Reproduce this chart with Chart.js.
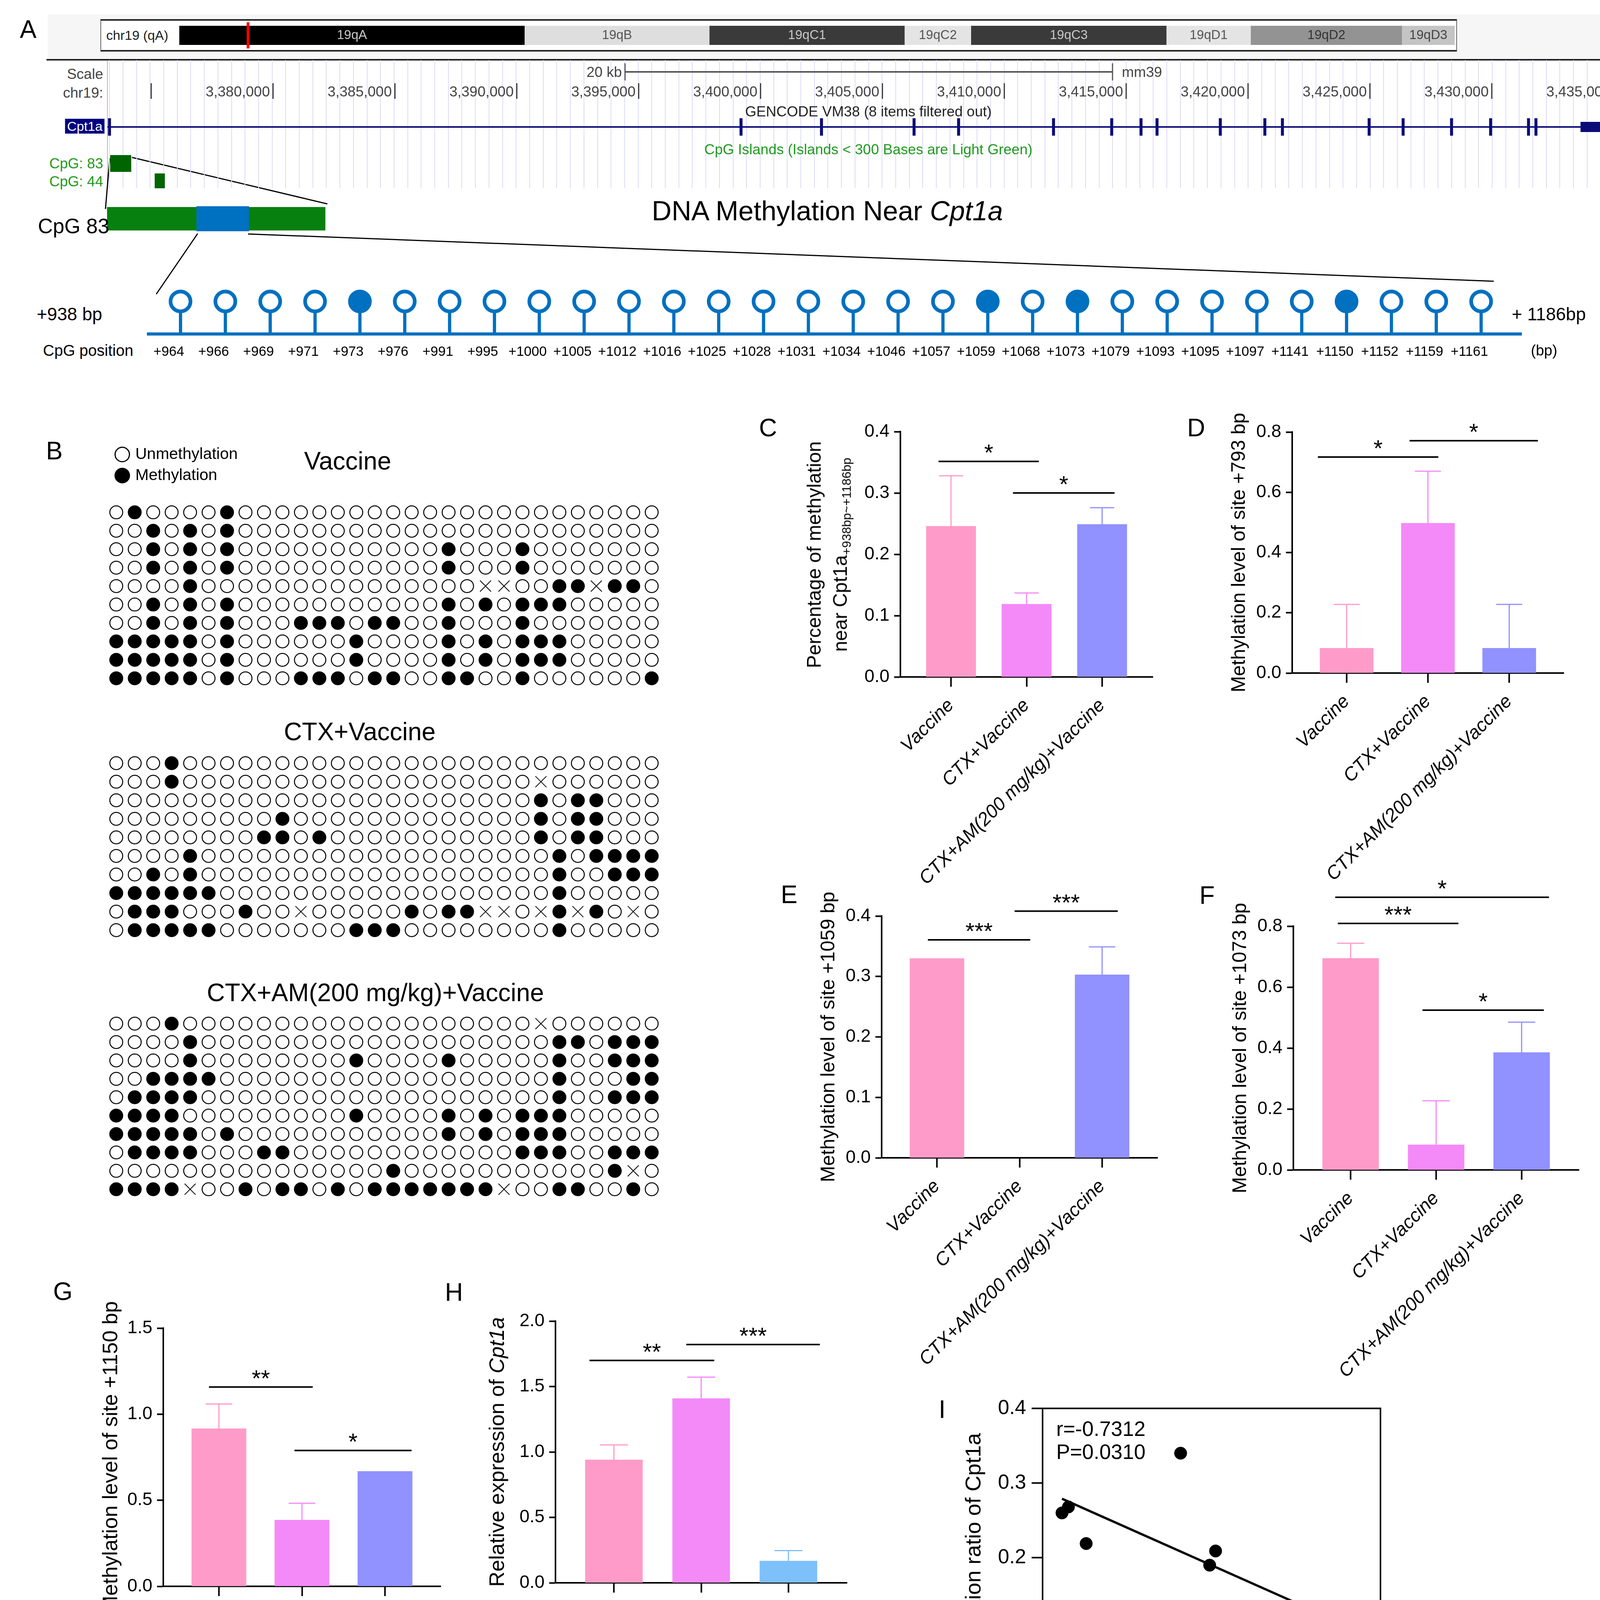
<!DOCTYPE html>
<html>
<head>
<meta charset="utf-8">
<title>DNA methylation near Cpt1a</title>
<script src="https://cdn.jsdelivr.net/npm/chart.js@4.4.1/dist/chart.umd.min.js"></script>
<style>
  html, body { margin: 0; padding: 0; background: #fff; }
  body { position: relative; width: 4243px; height: 4650px; overflow: hidden; font-family: 'Liberation Sans', Arial, sans-serif; }
  canvas { position: absolute; }
  .t { position: absolute; white-space: nowrap; line-height: 1; color: #000; }
  .deco { position: absolute; box-sizing: border-box; }
  sub { font-size: 32px; line-height: 0; vertical-align: -10px; }
</style>
</head>
<body>
<div class="deco" style="left:122px;top:37px;width:4067px;height:114px;background:#f6f6f6"></div>
<div class="deco" style="left:257px;top:49px;width:3473px;height:83px;background:#fff;border-top:4px solid #222;border-bottom:4px solid #222;border-left:2px solid #666;border-right:2px solid #666"></div>
<div class="deco" style="left:119px;top:151px;width:4056px;height:4px;background:#222"></div>
<div class="deco" style="left:274px;top:155px;width:2px;height:330px;background:#f5a0a0"></div>
<div class="deco" style="left:4165px;top:155px;width:3px;height:327px;background:#333"></div>
<svg class="deco" style="left:0;top:0" width="4243" height="1000">
  <g stroke="#000" stroke-width="3" fill="none">
    <line x1="281" y1="405" x2="270" y2="535"/>
    <line x1="338" y1="403" x2="838" y2="522"/>
    <line x1="506" y1="598" x2="400" y2="753"/>
    <line x1="635" y1="599" x2="3824" y2="720"/>
  </g>
</svg>
<script>
// ---------- A: chromosome 19 ideogram (Mb) ----------
const chr19Length = 61.42;
const bandNames = ['19qA', '19qB', '19qC1', '19qC2', '19qC3', '19qD1', '19qD2', '19qD3'];
const bandStart = [0, 16.63, 25.53, 34.93, 38.13, 47.54, 51.60, 58.88];
const bandEnd = [16.63, 25.53, 34.93, 38.13, 47.54, 51.60, 58.88, 61.42];
const locusMb = 3.31;

// ---------- A: browser window chr19 (bp) ----------
const viewStart = 3373205, viewEnd = 3435577;
const rulerTicks = [3375000, 3380000, 3385000, 3390000, 3395000, 3400000, 3405000, 3410000, 3415000, 3420000, 3425000, 3430000, 3435000];
const scaleBar = [3394440, 3414440];
const intron = [3373205, 3433640];
const exons = [3373290, 3399199, 3402500, 3406298, 3408125, 3412019, 3414407, 3415609, 3416266, 3418862,
  3420689, 3421410, 3424968, 3426362, 3428349, 3429952, 3431506, 3431811];
const utr3 = [3433640, 3435560];
const cpg83 = [3373317, 3374183];
const cpg44 = [3375144, 3375561];

// ---------- A: zoomed island / amplicon (% of CpG 83) ----------
const islandSpan = [0, 100];
const ampliconSpan = [41, 65];

// ---------- A: CpG sites in the amplicon ----------
const cpgSites = ['+964', '+966', '+969', '+971', '+973', '+976', '+991', '+995', '+1000', '+1005',
  '+1012', '+1016', '+1025', '+1028', '+1031', '+1034', '+1046', '+1057', '+1059', '+1068',
  '+1073', '+1079', '+1093', '+1095', '+1097', '+1141', '+1150', '+1152', '+1159', '+1161'];
const siteMethylated = [0, 0, 0, 0, 1, 0, 0, 0, 0, 0, 0, 0, 0, 0, 0, 0, 0, 0, 1, 0, 1, 0, 0, 0, 0, 0, 1, 0, 0, 0];

// ---------- B: clones (0 unmethylated, 1 methylated, x not determined) ----------
const vaccineRows = [
  '010000100000000000000000000000',
  '001010100000000000000000000000',
  '001010100000000000100010000000',
  '001010100000000000100010000000',
  '00001000000000000000xx0011x1101',
  '001010100000000000101011100000',
  '001010100011101100100010000000',
  '111110100000010000101011100000',
  '111110100000010000101011100000',
  '111110100011101100110010000001'
];
const ctxRows = [
  '000100000000000000000000000000',
  '00010000000000000000000x000000',
  '000000000000000000000001011000',
  '000000000100000000000001011000',
  '000000001101000000000001011000',
  '000010000000000000000000101111',
  '001010000000000000000000100111',
  '111111000000000000000000100000',
  '0111000100x000001011xx0x1x10x0',
  '011111000000011100000000100000'
];
const amRows = [
  '00010000000000000000000x000000',
  '000010000000000000000000110111',
  '000010000000010000100000100111',
  '001111000000000000000000100011',
  '011110000000000000000000100111',
  '111100000000010000101011100000',
  '111110100000000000101011100000',
  '011110001100000000000011100111',
  '0000000000000001000000000001x01',
  '1111x0010110101111111x00110010'
];

// ---------- C-H: bar panels ----------
const groups = ['Vaccine', 'CTX+Vaccine', 'CTX+AM(200 mg/kg)+Vaccine'];
const cMean = [0.246, 0.119, 0.249], cTop = [0.328, 0.137, 0.276];
const dMean = [0.083, 0.498, 0.083], dTop = [0.228, 0.670, 0.228];
const eMean = [0.330, 0, 0.303], eTop = [null, null, 0.349];
const fMean = [0.695, 0.083, 0.386], fTop = [0.744, 0.227, 0.485];
const gMean = [0.917, 0.386, 0.669], gTop = [1.059, 0.483, null];
const hMean = [0.941, 1.410, 0.168], hTop = [1.054, 1.572, 0.246];
// significance brackets: [from group, to group, height, label]
const cSig = [[-0.165, 1.163, 0.3515, '*'], [0.82, 2.165, 0.300, '*']];
const dSig = [[-0.354, 1.128, 0.717, '*'], [0.774, 2.353, 0.771, '*']];
const eSig = [[-0.11, 1.13, 0.3606, '***'], [0.94, 2.19, 0.408, '***']];
const fSig = [[-0.15, 1.26, 0.809, '***'], [-0.18, 2.32, 0.895, '*'], [0.84, 2.26, 0.5245, '*']];
const gSig = [[-0.12, 1.13, 1.158, '**'], [0.91, 2.32, 0.789, '*']];
const hSig = [[-0.28, 1.15, 1.699, '**'], [0.83, 2.36, 1.821, '***']];

// ---------- I: correlation ----------
const iExpr = [0.115, 0.153, 0.258, 0.817, 1.024, 0.989, 1.269, 1.378, 1.585];
const iMeth = [0.260, 0.268, 0.219, 0.340, 0.209, 0.190, 0.130, 0.102, 0.126];
const iFit = [[0.115, 0.279], [1.585, 0.131]];
</script>
<script>
Chart.defaults.font.family = "'Liberation Sans', Arial, sans-serif";
Chart.defaults.color = '#000';
Chart.defaults.animation = false;
Chart.defaults.responsive = false;
Chart.defaults.events = [];
Chart.defaults.layout.autoPadding = false;
Chart.defaults.plugins.legend.display = false;
Chart.defaults.plugins.tooltip.enabled = false;

function addCanvas(left, top, w, h) {
  const c = document.createElement('canvas');
  c.width = Math.round(w);
  c.height = Math.round(h);
  c.style.cssText = `left:${left}px;top:${top}px;width:${Math.round(w)}px;height:${Math.round(h)}px;`;
  document.body.appendChild(c);
  return c;
}

function text(html, x, y, size, align, css) {
  const d = document.createElement('div');
  d.className = 't';
  d.innerHTML = html;
  const ax = align === 'right' ? '-100%' : align === 'left' ? '0' : '-50%';
  d.style.cssText = `left:${x}px;top:${y}px;font-size:${size}px;transform:translate(${ax},-50%);` + (css || '');
  document.body.appendChild(d);
  return d;
}

// ---------- plugins ----------
const bandLabelPlugin = {
  id: 'bandLabels',
  afterDatasetsDraw(chart, args, o) {
    const { ctx } = chart;
    ctx.save();
    ctx.font = "33px 'Liberation Sans'";
    ctx.textAlign = 'center';
    ctx.textBaseline = 'middle';
    bandNames.forEach((n, i) => {
      const el = chart.getDatasetMeta(i + 1).data[0];
      ctx.fillStyle = o.ink[i];
      ctx.fillText(n, (el.x + el.base) / 2, el.y);
    });
    ctx.restore();
  }
};

const rulerPlugin = {
  id: 'ruler',
  afterDatasetsDraw(chart, args, o) {
    const { ctx } = chart, x = chart.scales.x, y = chart.scales.y;
    ctx.save();
    ctx.strokeStyle = '#333';
    ctx.lineWidth = 3;
    ctx.fillStyle = '#444';
    ctx.font = "37px 'Liberation Sans'";
    ctx.textAlign = 'right';
    ctx.textBaseline = 'middle';
    o.ticks.forEach(v => {
      const px = x.getPixelForValue(v);
      ctx.beginPath();
      ctx.moveTo(px, y.getPixelForValue(o.top));
      ctx.lineTo(px, y.getPixelForValue(o.bottom));
      ctx.stroke();
      if (v >= o.firstLabel) ctx.fillText(v.toLocaleString('en-US'), px - 8, y.getPixelForValue(o.mid));
    });
    ctx.restore();
  }
};

// error bars (upper only) and significance brackets
const marksPlugin = {
  id: 'marks',
  afterDatasetsDraw(chart, args, o) {
    const { ctx } = chart, x = chart.scales.x, y = chart.scales.y;
    ctx.save();
    const cap = x.getPixelForValue(0.16) - x.getPixelForValue(0);
    o.tops.forEach((t, i) => {
      if (t == null) return;
      const px = x.getPixelForValue(i);
      const p0 = y.getPixelForValue(o.means[i]), p1 = y.getPixelForValue(t);
      ctx.strokeStyle = o.colors[i];
      ctx.lineWidth = 3;
      ctx.beginPath();
      ctx.moveTo(px, p0);
      ctx.lineTo(px, p1);
      ctx.moveTo(px - cap, p1);
      ctx.lineTo(px + cap, p1);
      ctx.stroke();
    });
    ctx.strokeStyle = '#000';
    ctx.fillStyle = '#000';
    ctx.lineWidth = 4;
    ctx.font = "60px 'Liberation Sans'";
    ctx.textAlign = 'center';
    ctx.textBaseline = 'alphabetic';
    o.sig.forEach(([a, b, v, s]) => {
      const py = y.getPixelForValue(v), xa = x.getPixelForValue(a), xb = x.getPixelForValue(b);
      ctx.beginPath();
      ctx.moveTo(xa, py);
      ctx.lineTo(xb, py);
      ctx.stroke();
      ctx.fillText(s, (xa + xb) / 2, py - 2);
    });
    ctx.restore();
  }
};

const framePlugin = {
  id: 'frame',
  beforeDatasetsDraw(chart) {
    const { ctx, chartArea: a } = chart;
    ctx.save();
    ctx.strokeStyle = '#000';
    ctx.lineWidth = 4;
    ctx.strokeRect(a.left, a.top, a.width, a.height);
    ctx.restore();
  }
};

// ---------- A: ideogram ----------
(function () {
  const canvas = addCanvas(459, 57, 3265, 67);
  const bandFill = ['#000000', '#dedede', '#3a3a3a', '#e4e4e4', '#3a3a3a', '#e4e4e4', '#939393', '#c4c4c4'];
  const bandInk = ['#c8c8c8', '#555', '#c8c8c8', '#555', '#c8c8c8', '#555', '#333', '#444'];
  new Chart(canvas, {
    type: 'bar',
    data: {
      labels: ['chr19'],
      datasets: [
        { data: [[locusMb - 0.06, locusMb + 0.06]], backgroundColor: '#ff0000', barPercentage: 1, categoryPercentage: 1, grouped: false, order: 0 }
      ].concat(bandNames.map((n, i) => ({
        label: n, data: [[bandStart[i], bandEnd[i]]], backgroundColor: bandFill[i],
        barPercentage: 0.73, categoryPercentage: 1, grouped: false, order: 1
      })))
    },
    options: {
      indexAxis: 'y',
      scales: { x: { display: false, min: 0, max: chr19Length }, y: { display: false } },
      plugins: { bandLabels: { ink: bandInk } }
    },
    plugins: [bandLabelPlugin]
  });
})();

// ---------- A: browser tracks ----------
(function () {
  const canvas = addCanvas(275, 154, 3892, 328);
  const navy = '#0c0c78', island = '#006400';
  const ROW = { scale: 30, rulerTop: 59, rulerBottom: 99, rulerMid: 83, gene: 171, cpg83: 264.5, cpg44: 309 };
  const seg = (span, y, w, color) => ({
    type: 'line', data: span.map(x => ({ x, y })), borderColor: color, borderWidth: w,
    borderCapStyle: 'butt', pointRadius: 0
  });
  const tick = (x, color) => ({
    type: 'line', data: [{ x, y: ROW.scale - 22 }, { x, y: ROW.scale + 22 }], borderColor: color, borderWidth: 3, pointRadius: 0
  });
  new Chart(canvas, {
    type: 'scatter',
    data: {
      datasets: [
        seg(intron, ROW.gene, 4, navy),
        seg(utr3, ROW.gene, 26, navy),
        { type: 'bar', data: exons.map(x => ({ x, y: [ROW.gene - 22, ROW.gene + 22] })), backgroundColor: navy, barThickness: 7 },
        seg(cpg83, ROW.cpg83, 43, island),
        seg(cpg44, ROW.cpg44, 38, island),
        seg(scaleBar, ROW.scale, 4, '#555'),
        tick(scaleBar[0], '#555'),
        tick(scaleBar[1], '#555')
      ]
    },
    options: {
      scales: {
        x: { type: 'linear', display: false, offset: false, grid: { offset: false }, min: viewStart, max: viewEnd },
        xg: {
          type: 'linear', position: 'bottom', min: -1.15, max: 111, offset: false,
          ticks: { display: false, stepSize: 1, includeBounds: false },
          grid: { color: '#dcdcf8', lineWidth: 2, drawTicks: false, offset: false },
          border: { display: false }
        },
        y: { display: false, min: 0, max: 328, reverse: true }
      },
      plugins: { ruler: { ticks: rulerTicks, firstLabel: 3380000, top: ROW.rulerTop, bottom: ROW.rulerBottom, mid: ROW.rulerMid } }
    },
    plugins: [rulerPlugin]
  });
})();

// ---------- A: zoomed CpG 83 ----------
(function () {
  const canvas = addCanvas(274, 528, 559, 64);
  new Chart(canvas, {
    type: 'bar',
    data: {
      labels: ['CpG 83'],
      datasets: [
        { data: [ampliconSpan], backgroundColor: '#0070c0', barPercentage: 1, categoryPercentage: 1, grouped: false, order: 0 },
        { data: [islandSpan], backgroundColor: '#07800f', barPercentage: 0.94, categoryPercentage: 1, grouped: false, order: 1 }
      ]
    },
    options: { indexAxis: 'y', scales: { x: { display: false, min: 0, max: 100 }, y: { display: false } } }
  });
})();

// ---------- A: lollipop ----------
(function () {
  const left = 376, top = 700, padTop = 55, plotH = 100, xH = 90, w = 3560;
  const canvas = addCanvas(left, top, w, padTop + plotH + xH);
  const blue = '#0070c0';
  new Chart(canvas, {
    type: 'bar',
    data: {
      datasets: [
        {
          type: 'line', data: cpgSites.map((s, i) => ({ x: i, y: 1 })), showLine: false,
          pointRadius: 25.5, pointBorderWidth: 9.5, pointBorderColor: blue,
          pointBackgroundColor: siteMethylated.map(m => (m ? blue : '#fff')), order: 0, clip: false
        },
        { data: cpgSites.map((s, i) => ({ x: i, y: 1 })), backgroundColor: blue, barThickness: 7.6, order: 1 }
      ]
    },
    options: {
      layout: { padding: { top: padTop, right: w - 3519, left: 0, bottom: 0 } },
      scales: {
        x: {
          type: 'linear', min: -0.75, max: 29.9, bounds: 'data', offset: false,
          afterBuildTicks: s => { s.ticks = cpgSites.map((c, i) => ({ value: i })); },
          afterFit: s => { s.height = xH; },
          ticks: { autoSkip: false, maxRotation: 0, padding: 25, labelOffset: -30, font: { size: 35 }, callback: v => cpgSites[v] },
          grid: { display: false, drawTicks: false, offset: false },
          border: { color: blue, width: 8 }
        },
        y: { display: false, min: 0, max: 1.2 }
      }
    }
  });
})();

// ---------- B: legend ----------
(function () {
  const canvas = addCanvas(287, 1130, 340, 280);
  new Chart(canvas, {
    type: 'scatter',
    data: { datasets: [{ label: 'Unmethylation', data: [] }, { label: 'Methylation', data: [] }] },
    options: {
      scales: { x: { display: false }, y: { display: false } },
      plugins: {
        legend: {
          display: true, position: 'top', align: 'start', maxHeight: 240,
          labels: {
            usePointStyle: true, boxWidth: 26, boxHeight: 26, padding: 13, font: { size: 41 }, color: '#000',
            generateLabels: () => [
              { text: 'Unmethylation', fillStyle: '#fff', strokeStyle: '#000', lineWidth: 3, pointStyle: 'circle', hidden: false, datasetIndex: 0, fontColor: '#000' },
              { text: 'Methylation', fillStyle: '#000', strokeStyle: '#000', lineWidth: 3, pointStyle: 'circle', hidden: false, datasetIndex: 1, fontColor: '#000' }
            ]
          }
        }
      }
    }
  });
})();

// ---------- B: clone grids ----------
function gridPanel(rows, top, height) {
  const canvas = addCanvas(274, top, 1418, height);
  const pts = { '0': [], '1': [], 'x': [] };
  rows.forEach((r, y) => [...r].forEach((c, x) => { if (pts[c]) pts[c].push({ x, y }); }));
  new Chart(canvas, {
    type: 'scatter',
    data: {
      datasets: [
        { data: pts['0'], pointRadius: 16.5, pointBorderWidth: 2.5, pointBackgroundColor: '#fff', pointBorderColor: '#000', clip: false },
        { data: pts['1'], pointRadius: 16.5, pointBorderWidth: 2.5, pointBackgroundColor: '#000', pointBorderColor: '#000', clip: false },
        { data: pts['x'], pointStyle: 'crossRot', pointRadius: 20, pointBorderWidth: 2, pointBorderColor: '#000', clip: false }
      ]
    },
    options: {
      layout: { padding: 0 },
      scales: {
        x: { display: false, min: -0.5, max: 29.5 },
        y: { display: false, min: -0.5, max: rows.length - 0.5, reverse: true }
      }
    }
  });
}
gridPanel(vaccineRows, 1288, 472);
gridPanel(ctxRows, 1930, 475);
gridPanel(amRows, 2597, 471);

// ---------- C-H: bar panels ----------
const barColors = ['#ff9bc9', '#f48af8', '#9191ff'];
function barPanel(p) {
  const yW = 300, xH = 640, padTop = 200, padRight = 30;
  const left = p.axisX - yW, top = p.yTop - padTop;
  const canvas = addCanvas(left, top, p.xEnd - left + padRight, p.y0 - top + xH);
  const colors = p.colors || barColors;
  new Chart(canvas, {
    type: 'bar',
    data: {
      datasets: [{
        data: p.means.map((v, i) => ({ x: i, y: v })), backgroundColor: colors,
        categoryPercentage: 1, barPercentage: 0.66
      }]
    },
    options: {
      layout: { padding: { top: padTop, right: padRight, left: 0, bottom: 0 } },
      scales: {
        x: {
          type: 'linear', min: -0.67, max: 2.67, bounds: 'data', offset: false,
          afterBuildTicks: s => { s.ticks = groups.map((g, i) => ({ value: i })); },
          afterFit: s => { s.height = xH; },
          ticks: { autoSkip: false, minRotation: 45, maxRotation: 45, padding: 20, font: { size: 48, style: 'italic' }, callback: v => groups[v] },
          grid: { drawOnChartArea: false, offset: false, tickLength: 25, tickWidth: 4, tickColor: '#000' },
          border: { color: '#000', width: 4 }
        },
        y: {
          min: 0, max: p.max,
          afterFit: s => { s.width = yW; },
          ticks: { stepSize: p.step, padding: 12, font: { size: 46 }, callback: v => v.toFixed(1) },
          grid: { drawOnChartArea: false, tickLength: 16, tickWidth: 4, tickColor: '#000' },
          border: { color: '#000', width: 4 },
          title: { display: !!p.title, text: p.title || '', font: { size: p.titleSize || 50 }, padding: { top: 135, bottom: 0 } }
        }
      },
      plugins: { marks: { means: p.means, tops: p.tops, colors, sig: p.sig } }
    },
    plugins: [marksPlugin]
  });
}

barPanel({ axisX: 2304.5, y0: 1733.7, yTop: 1105.3, xEnd: 2950.5, max: 0.4, step: 0.1, means: cMean, tops: cTop, sig: cSig });
barPanel({ axisX: 3307.6, y0: 1723, yTop: 1106, xEnd: 4003, max: 0.8, step: 0.2, means: dMean, tops: dTop, sig: dSig,
  title: 'Methylation level of site +793 bp' });
barPanel({ axisX: 2256.8, y0: 2964, yTop: 2345, xEnd: 2963, max: 0.4, step: 0.1, means: eMean, tops: eTop, sig: eSig,
  title: 'Methylation level of site +1059 bp' });
barPanel({ axisX: 3311, y0: 2995, yTop: 2371, xEnd: 4042, max: 0.8, step: 0.2, means: fMean, tops: fTop, sig: fSig,
  title: 'Methylation level of site +1073 bp' });
barPanel({ axisX: 418, y0: 4061, yTop: 3400, xEnd: 1128, max: 1.5, step: 0.5, means: gMean, tops: gTop, sig: gSig,
  title: 'Methylation level of site +1150 bp', titleSize: 54 });
barPanel({ axisX: 1422, y0: 4052, yTop: 3382, xEnd: 2168, max: 2.0, step: 0.5, means: hMean, tops: hTop, sig: hSig,
  colors: ['#ff9bc9', '#f48af8', '#7dc0fa'] });

// ---------- I: correlation ----------
(function () {
  const left = 2400, top = 3525, yW = 269, xH = 260, padRight = 80;
  const canvas = addCanvas(left, top, 3534 + padRight - left, 4370 + xH - top);
  new Chart(canvas, {
    type: 'scatter',
    data: {
      datasets: [
        { data: iExpr.map((x, k) => ({ x, y: iMeth[k] })), pointRadius: 16, pointBackgroundColor: '#000', pointBorderColor: '#000', order: 0, clip: false },
        { type: 'line', data: iFit.map(([x, y]) => ({ x, y })), borderColor: '#000', borderWidth: 6, pointRadius: 0, order: 1 }
      ]
    },
    options: {
      layout: { padding: { top: 80.5, right: padRight, left: 0, bottom: 0 } },
      scales: {
        x: {
          min: 0, max: 2,
          afterFit: s => { s.height = xH; },
          ticks: { stepSize: 0.5, padding: 19, font: { size: 52 }, callback: v => v.toFixed(1) },
          grid: { drawOnChartArea: false, tickLength: 26, tickWidth: 4, tickColor: '#000' },
          border: { color: '#000', width: 4 },
          title: { display: true, text: 'Relative expression of Cpt1a', font: { size: 56 }, padding: { top: 0, bottom: 67 } }
        },
        y: {
          min: 0, max: 0.4,
          afterFit: s => { s.width = yW; },
          ticks: { stepSize: 0.1, padding: 14, font: { size: 52 }, callback: v => v.toFixed(1) },
          grid: { drawOnChartArea: false, tickLength: 28, tickWidth: 4, tickColor: '#000' },
          border: { color: '#000', width: 4 },
          title: { display: true, text: 'Methylation ratio of Cpt1a', font: { size: 56 }, padding: { top: 61, bottom: 0 } }
        }
      }
    },
    plugins: [framePlugin]
  });
})();

// ---------- text ----------
[['A', 72, 75], ['B', 139, 1154], ['C', 1966, 1095], ['D', 3062, 1095], ['E', 2020, 2290],
 ['F', 3090, 2292], ['G', 161, 3306], ['H', 1162, 3308], ['I', 2412, 3608]].forEach(([s, x, y]) => text(s, x, y, 64));

text('chr19 (qA)', 272, 90, 34, 'left', 'color:#222');
text('Scale', 264, 189, 37, 'right', 'color:#444');
text('chr19:', 264, 237, 37, 'right', 'color:#444');
text('20 kb', 1592, 184, 37, 'right', 'color:#444');
text('mm39', 2872, 184, 37, 'left', 'color:#444');
text('GENCODE VM38 (8 items filtered out)', 2223, 285, 37, 'center', 'color:#222');
text('CpG Islands (Islands &lt; 300 Bases are Light Green)', 2223, 382, 37, 'center', 'color:#1f9a1f');
text('Cpt1a', 217, 323, 34, 'center', 'color:#fff;background:#000080;width:101px;height:38px;line-height:38px;text-align:center');
text('CpG: 83', 264, 418, 37, 'right', 'color:#1f9a1f');
text('CpG: 44', 264, 464, 37, 'right', 'color:#1f9a1f');
text('CpG 83', 97, 578, 53, 'left');
text('DNA Methylation Near <i>Cpt1a</i>', 2118, 540, 70);
text('+938 bp', 94, 804, 46, 'left');
text('+ 1186bp', 3870, 804, 46, 'left');
text('CpG position', 110, 897, 40, 'left');
text('(bp)', 3919, 897, 38, 'left');

text('Vaccine', 890, 1180, 64);
text('CTX+Vaccine', 921, 1873, 64);
text('CTX+AM(200 mg/kg)+Vaccine', 961, 2541, 64);

text('Percentage of methylation<br>near Cpt1a<sub>+938bp~+1186bp</sub>', 2118, 1420, 50, 'center',
  'line-height:67px;text-align:center;transform:translate(-50%,-50%) rotate(-90deg)');
text('Relative expression of <i>Cpt1a</i>', 1271, 3717, 54, 'center',
  'transform:translate(-50%,-50%) rotate(-90deg)');

text('r=-0.7312', 2704, 3657, 53, 'left');
text('P=0.0310', 2704, 3716, 53, 'left');
</script>
</body>
</html>
